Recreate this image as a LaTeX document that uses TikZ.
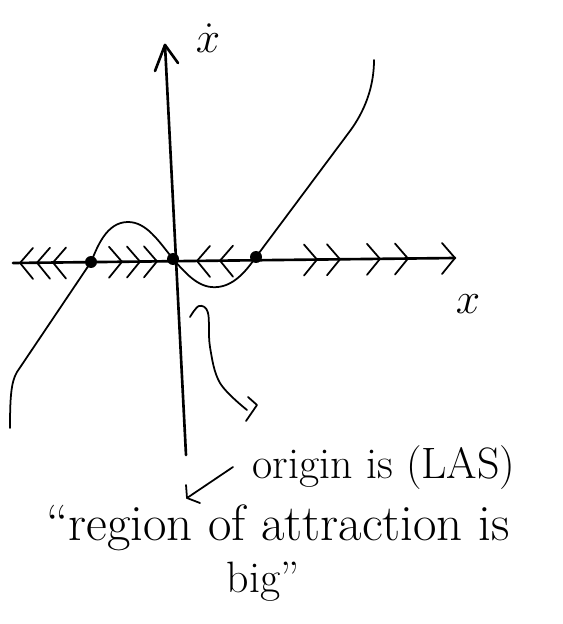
\documentclass[tikz,border=0pt]{standalone}
\usepackage{amsmath}
\usepackage{tikz}
\usetikzlibrary{
  arrows.meta,
  positioning,
  calc
}

\tikzset{
  axisline/.style={line width=1.5pt, line cap=round},
  phasecurve/.style={line width=1pt, line cap=round, line join=round},
  flowtick/.style={line width=1pt, line cap=round, line join=round},
  notetext/.style={font=\fontsize{25}{29}\selectfont, inner sep=0pt},
  fixedpt/.style={fill=black}
}

\begin{document}
\begin{tikzpicture}[x=0.02cm, y=-0.02cm]
  \useasboundingbox (0,0) rectangle (563,624);

  % Fixed points on the x axis
  \coordinate (P1) at (91,262);
  \coordinate (P0) at (173,259);
  \coordinate (P2) at (256,257);

  % Axes (drawn by hand, slightly tilted)
  \coordinate (xstart) at (13,263);
  \coordinate (xend)   at (455,258);
  \coordinate (ybot)   at (186,455);
  \coordinate (ytop)   at (165,45);
  \draw[axisline] (xstart) -- (xend);
  \draw[axisline] (ybot) -- (ytop);
  \draw[axisline, line join=round] (155,71) -- (ytop) -- (178,63);

  % Axis labels
  \node[font=\fontsize{26}{30}\selectfont] (xdotlab) at (208,38) {$\dot{x}$};
  \node[font=\fontsize{26}{30}\selectfont] (xlab) at (468,304) {$x$};

  % Phase curve x' = f(x)
  \draw[phasecurve] (10,428) .. controls (10,398) and (11,382) .. (17,372)
    -- (P1) .. controls (97,248) and (106,222) .. (128,222)
    .. controls (146,222) and (158,240) .. (P0)
    .. controls (188,276) and (200,289) .. (218,287)
    .. controls (236,285) and (248,268) .. (P2)
    -- (350,131) .. controls (364,112) and (374,88) .. (374,60);

  % Flow direction on the line: < points left, > points right
  \foreach \cx/\dir in {20/-1, 37/-1, 53/-1,
                        122/1, 140/1, 157/1,
                        197/-1, 220/-1,
                        317/1, 340/1, 380/1, 408/1, 455/1}{
    \pgfmathsetmacro{\cy}{263 - (\cx-13)*5/442}
    \draw[flowtick] ({\cx-\dir*13},{\cy-15}) -- (\cx,\cy) -- ({\cx-\dir*13},{\cy+16});
  }

  % Fixed point dots
  \foreach \pt in {P1,P0,P2}{
    \fill[fixedpt] (\pt) circle (6);
  }

  % Hand-drawn pointer from the origin
  \coordinate (hookA) at (190,317);
  \coordinate (hookB) at (247,410);
  \draw[phasecurve] plot[smooth, tension=0.6] coordinates {
    (hookA) (199,306) (208,313) (210,347) (220,383) (hookB)};
  \draw[phasecurve] (248,397) -- (257,405) -- (246,421);

  % Notes
  \node[notetext, anchor=base] (origin) at (384,478) {origin is (LAS)};
  \node[notetext, font=\fontsize{29}{33}\selectfont, anchor=base] (region) at (278,540) {``region of attraction is};
  \node[notetext, anchor=base] (bigword) at (263,592) {big''};

  \coordinate (noteA) at (233,467);
  \coordinate (noteB) at (187,498);
  \draw[phasecurve] (noteA) -- (noteB);
  \draw[phasecurve] (186,485) -- (noteB) -- (200,503);
\end{tikzpicture}
\end{document}
